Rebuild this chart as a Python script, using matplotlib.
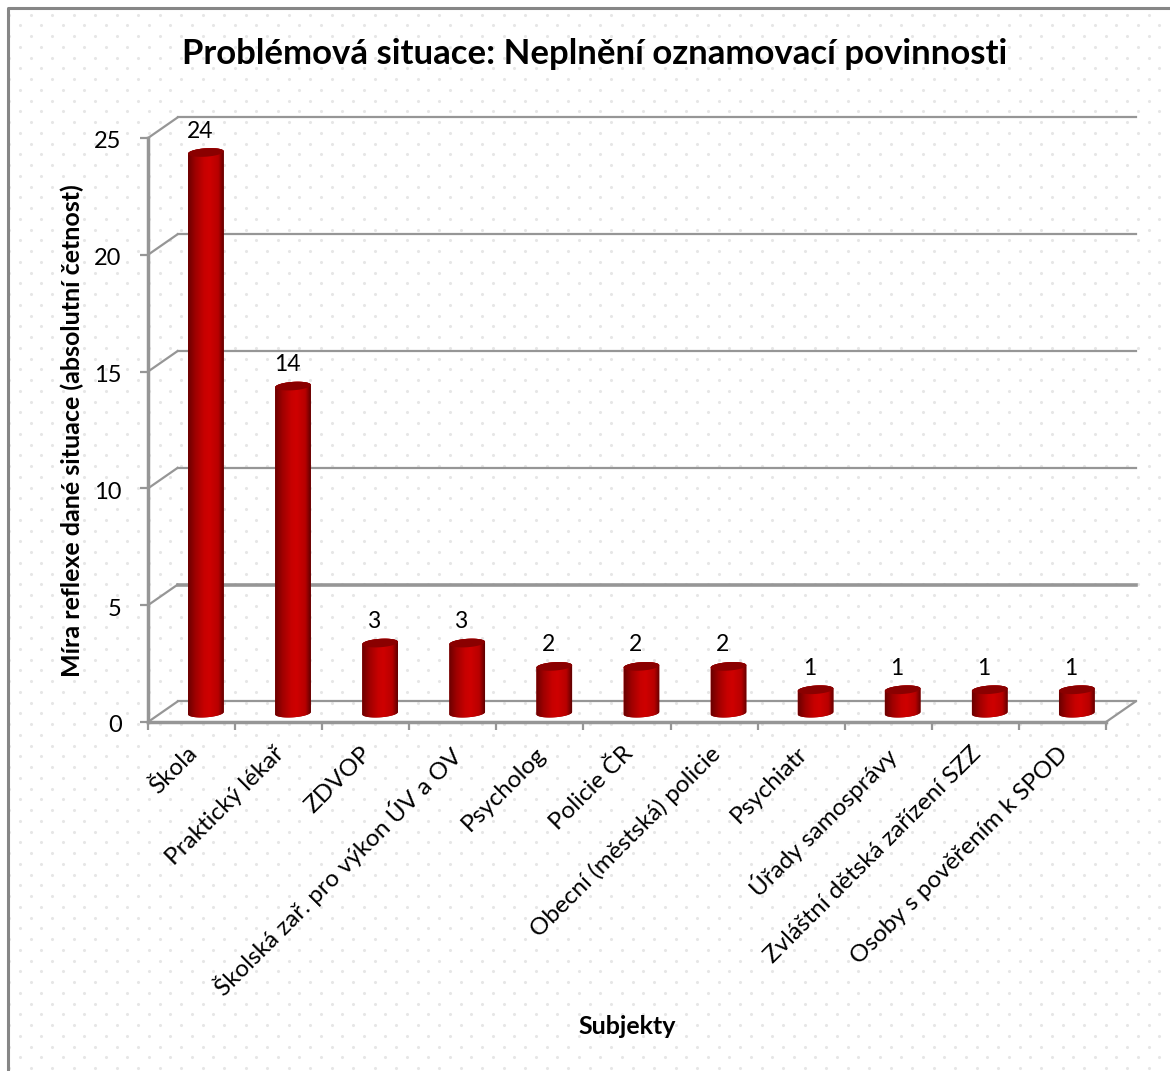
import matplotlib.pyplot as plt
import numpy as np
from matplotlib.transforms import ScaledTranslation

plt.rcParams["font.family"] = ["Lato", "DejaVu Sans"]

categories = [
    "Škola",
    "Praktický lékař",
    "ZDVOP",
    "Školská zař. pro výkon ÚV a OV",
    "Psycholog",
    "Policie ČR",
    "Obecní (městská) policie",
    "Psychiatr",
    "Úřady samosprávy",
    "Zvláštní dětská zařízení SZZ",
    "Osoby s pověřením k SPOD",
]
values = [24, 14, 3, 3, 2, 2, 2, 1, 1, 1, 1]
y_ticks = [0, 5, 10, 15, 20, 25]

title = "Problémová situace: Neplnění oznamovací povinnosti"
y_title = "Míra reflexe dané situace (absolutní četnost)"
x_title = "Subjekty"

WIDTH, HEIGHT = 1170, 1071
GREY = "#969696"

fig = plt.figure(figsize=(WIDTH / 100, HEIGHT / 100), dpi=100, facecolor="white")

# dotted chart background, in pixels
bg = fig.add_axes([0, 0, 1, 1])
bg.set_xlim(0, WIDTH)
bg.set_ylim(HEIGHT, 0)
bg.axis("off")
rows = np.arange(14.7, HEIGHT, 21.5)
cols = np.arange(9.2, WIDTH, 21.5)
dx, dy = np.meshgrid(cols, rows)
bg.scatter(dx.ravel(), dy.ravel(), s=5, color="#e6e6e6", linewidths=0)
bg.scatter(dx.ravel() + 10.75, dy.ravel() + 10.7, s=5, color="#e6e6e6", linewidths=0)
bg.plot([8, 8, WIDTH], [HEIGHT, 8, 8], color="#868686", lw=2.2)

# front plane of the 3d box
ax = fig.add_axes(
    [148 / WIDTH, 1 - 722 / HEIGHT, (1106 - 148) / WIDTH, (722 - 138) / HEIGHT]
)
ax.patch.set_alpha(0)
ax.set_xlim(0, len(categories))
ax.set_ylim(0, 25)
for name in ["top", "right"]:
    ax.spines[name].set_visible(False)
for name in ["left", "bottom"]:
    ax.spines[name].set_color(GREY)
    ax.spines[name].set_linewidth(2.5)

depth_x = 0.34
depth_y = 0.88
n = len(categories)

# back wall gridlines and depth lines
for v in y_ticks:
    lw = 2.6 if v == 5 else 1.6
    ax.plot([depth_x, n + depth_x], [v + depth_y, v + depth_y], color=GREY, lw=lw,
            clip_on=False, zorder=1)
    ax.plot([0, depth_x], [v, v + depth_y], color=GREY, lw=1.6, clip_on=False, zorder=1)
ax.plot([n, n + depth_x], [0, depth_y], color=GREY, lw=1.6, clip_on=False, zorder=1)

# cylinders
radius_x = 0.205
radius_y = 0.18
shear = 0.05
base = 0.38
gradient = np.array(
    [[0.42, 0, 0], [0.62, 0, 0], [0.78, 0, 0], [0.81, 0, 0], [0.72, 0, 0], [0.38, 0, 0]]
)
stops = np.array([0, 0.2, 0.45, 0.6, 0.85, 1])
pos = np.linspace(0, 1, 64)
shade = np.stack([np.interp(pos, stops, gradient[:, c]) for c in range(3)], axis=1)
shade = shade[np.newaxis, :, :]

t_low = np.linspace(np.pi, 2 * np.pi, 40)
t_up = np.linspace(0, np.pi, 40)
t_all = np.linspace(0, 2 * np.pi, 80)

for i, value in enumerate(values):
    cx = i + 0.5 + 0.165
    x_low = cx + radius_x * np.cos(t_low)
    y_low = base + radius_y * np.sin(t_low) + shear * np.cos(t_low)
    x_up = cx + radius_x * np.cos(t_up)
    y_up = value + base + radius_y * np.sin(t_up) + shear * np.cos(t_up)

    body = ax.fill(
        np.concatenate([x_low, x_up]),
        np.concatenate([y_low, y_up]),
        color="#a00000",
        lw=0,
        zorder=3,
    )[0]
    im = ax.imshow(
        shade,
        extent=[cx - radius_x, cx + radius_x, 0, value + 1.5],
        aspect="auto",
        interpolation="bilinear",
        zorder=3,
    )
    im.set_clip_path(body)

    ax.fill(
        cx + radius_x * np.cos(t_all),
        value + base + radius_y * np.sin(t_all) + shear * np.cos(t_all),
        color="#8a0000",
        lw=0,
        zorder=4,
    )
    ax.text(
        cx - 0.07,
        value + 0.85,
        str(value),
        ha="center",
        va="bottom",
        fontsize=16.5,
        color="black",
        zorder=5,
    )

ax.set_xlim(0, n)
ax.set_ylim(0, 25)

ax.set_xticks(np.arange(n + 1))
ax.set_xticklabels([])
ax.set_yticks(y_ticks)
ax.tick_params(axis="both", which="major", color=GREY, width=1.6, length=6)
ax.tick_params(axis="y", labelsize=17, pad=13)
ax.set_xticks(np.arange(n) + 0.5, minor=True)
ax.set_xticklabels(
    categories,
    minor=True,
    rotation=45,
    ha="right",
    va="top",
    rotation_mode="anchor",
    fontsize=17.5,
)
ax.tick_params(axis="x", which="minor", length=0, pad=15)
# labels end a little left of the category centre
shift = ScaledTranslation(-5 / 100, 0, fig.dpi_scale_trans)
for label in ax.get_xticklabels(minor=True):
    label.set_transform(label.get_transform() + shift)
# y tick labels sit slightly lower than the tick
drop = ScaledTranslation(0, -2 / 100, fig.dpi_scale_trans)
for label in ax.get_yticklabels():
    label.set_transform(label.get_transform() + drop)

fig.text(595 / WIDTH, 1 - 54 / HEIGHT, title, ha="center", va="center",
         fontsize=25, fontweight="bold")
fig.text(72 / WIDTH, 1 - 431 / HEIGHT, y_title, ha="center", va="center",
         rotation=90, fontsize=18, fontweight="bold")
fig.text(627 / WIDTH, 1 - 1027 / HEIGHT, x_title, ha="center", va="center",
         fontsize=18, fontweight="bold")

fig.savefig("out.png", dpi=100)
